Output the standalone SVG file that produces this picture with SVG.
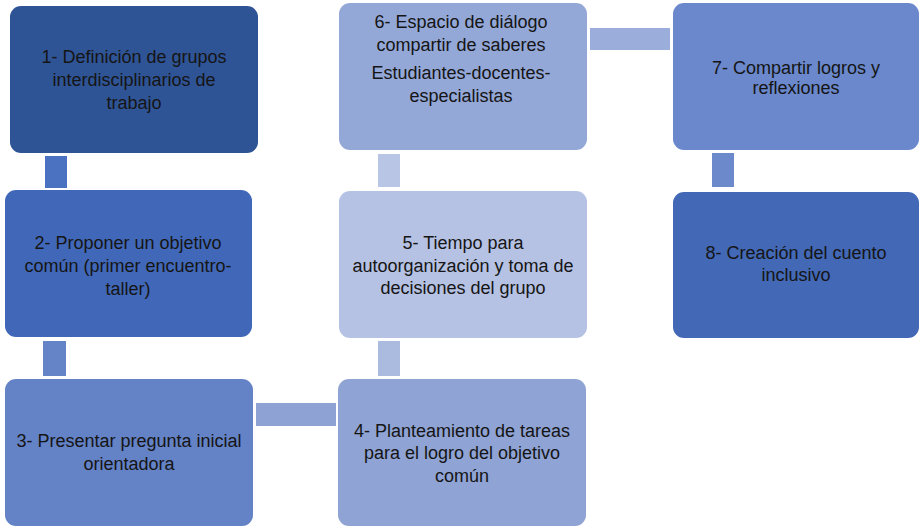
<svg xmlns="http://www.w3.org/2000/svg" width="920" height="528" viewBox="0 0 920 528">
<style>
text{font-family:"Liberation Sans","Noto Sans",Arial,sans-serif;font-size:18px;fill:#151515;text-anchor:middle}
</style>
<rect width="920" height="528" fill="#ffffff"/>
<g id="connectors">
<rect x="45" y="156" width="22" height="32" fill="#4A72C0"/>
<rect x="43" y="341" width="23" height="35" fill="#6584C8"/>
<rect x="256" y="403" width="80" height="23" fill="#8FA2D4"/>
<rect x="378" y="341" width="22" height="35" fill="#ABBADF"/>
<rect x="378" y="154" width="22" height="33" fill="#B8C5E4"/>
<rect x="590" y="28" width="80" height="22" fill="#9BAEDB"/>
<rect x="712" y="153" width="22" height="34" fill="#6C89CC"/>
</g>
<g id="node1">
<rect x="10" y="6" width="248" height="147" rx="11" fill="#2F5496"/>
<text x="134" y="63">1- Definición de grupos</text>
<text x="134" y="86">interdisciplinarios de</text>
<text x="134" y="109">trabajo</text>
</g>
<g id="node2">
<rect x="5" y="190" width="247" height="147" rx="11" fill="#4168B8"/>
<text x="128" y="249">2- Proponer un objetivo</text>
<text x="128" y="272">común (primer encuentro-</text>
<text x="128" y="295">taller)</text>
</g>
<g id="node3">
<rect x="5" y="379" width="248" height="147" rx="11" fill="#6482C6"/>
<text x="129" y="447">3- Presentar pregunta inicial</text>
<text x="129" y="470">orientadora</text>
</g>
<g id="node4">
<rect x="338" y="379" width="248" height="147" rx="11" fill="#8FA3D4"/>
<text x="462" y="437">4- Planteamiento de tareas</text>
<text x="462" y="459">para el logro del objetivo</text>
<text x="462" y="482">común</text>
</g>
<g id="node5">
<rect x="339" y="191" width="248" height="147" rx="11" fill="#B5C2E3"/>
<text x="463" y="249">5- Tiempo para</text>
<text x="463" y="272">autoorganización y toma de</text>
<text x="463" y="294">decisiones del grupo</text>
</g>
<g id="node6">
<rect x="339" y="3" width="248" height="147" rx="11" fill="#94A8D8"/>
<text x="461" y="28">6- Espacio de diálogo</text>
<text x="461" y="51">compartir de saberes</text>
<text x="461" y="79">Estudiantes-docentes-</text>
<text x="461" y="102">especialistas</text>
</g>
<g id="node7">
<rect x="673" y="3" width="246" height="147" rx="11" fill="#6A88CB"/>
<text x="796" y="74">7- Compartir logros y</text>
<text x="796" y="94">reflexiones</text>
</g>
<g id="node8">
<rect x="673" y="192" width="246" height="146" rx="11" fill="#4268B6"/>
<text x="796" y="259">8- Creación del cuento</text>
<text x="796" y="281">inclusivo</text>
</g>
</svg>
